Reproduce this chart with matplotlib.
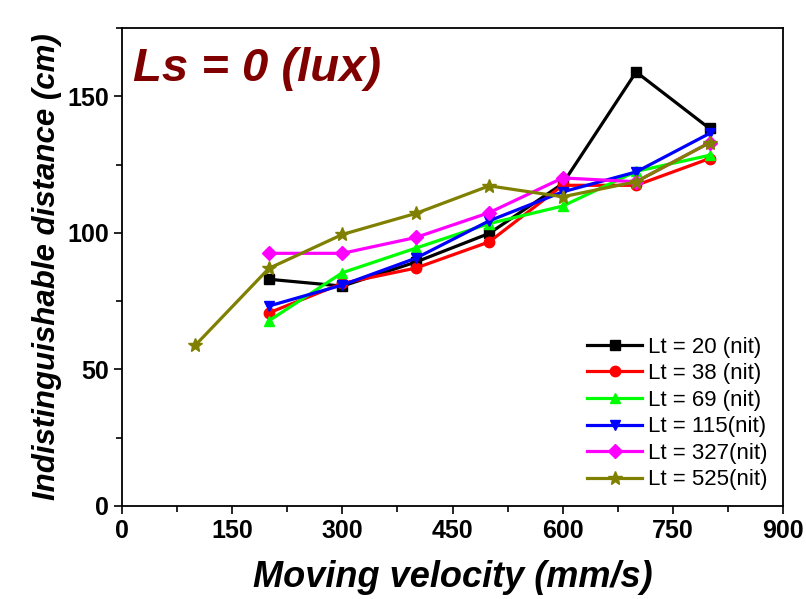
import matplotlib
matplotlib.use("Agg")
import matplotlib.pyplot as plt
from matplotlib.ticker import MultipleLocator

plt.rcParams['font.family'] = ['Liberation Sans', 'DejaVu Sans']

# data
velocity = [200, 300, 400, 500, 600, 700, 800]
velocity_525 = [100, 200, 300, 400, 500, 600, 700, 800]

lt20 = [83.0, 80.5, 89.3, 99.8, 118.0, 158.9, 138.2]
lt38 = [70.7, 81.5, 87.1, 96.7, 117.4, 117.4, 127.2]
lt69 = [67.8, 85.4, 94.4, 103.4, 109.8, 122.5, 128.4]
lt115 = [73.2, 80.9, 90.7, 104.4, 115.0, 122.3, 136.4]
lt327 = [92.5, 92.5, 98.3, 107.4, 120.1, 118.7, 133.0]
lt525 = [58.9, 87.0, 99.4, 107.1, 117.2, 113.2, 118.7, 133.0]

series = [
    (velocity, lt20, 'Lt = 20 (nit)', 'black', 's'),
    (velocity, lt38, 'Lt = 38 (nit)', '#ff0000', 'o'),
    (velocity, lt69, 'Lt = 69 (nit)', '#00ff00', '^'),
    (velocity, lt115, 'Lt = 115(nit)', '#0000ff', 'v'),
    (velocity, lt327, 'Lt = 327(nit)', '#ff00ff', 'D'),
    (velocity_525, lt525, 'Lt = 525(nit)', '#808000', '*'),
]

fig = plt.figure(figsize=(8.06, 5.99), dpi=100)
ax = fig.add_axes([0.1514, 0.1553, 0.8201, 0.798])

for x, y, label, color, marker in series:
    ms = 10 if marker == '*' else 7.5
    if marker == 'D':
        ms = 7
    ax.plot(x, y, color=color, marker=marker, markersize=ms, linewidth=2.3,
            label=label)

ax.set_xlim(0, 900)
ax.set_ylim(0, 175)
ax.xaxis.set_major_locator(MultipleLocator(150))
ax.xaxis.set_minor_locator(MultipleLocator(75))
ax.yaxis.set_major_locator(MultipleLocator(50))
ax.yaxis.set_minor_locator(MultipleLocator(25))
ax.tick_params(which='both', direction='out', top=False, right=False, width=1.2)
ax.tick_params(which='major', length=6, labelsize=18)
ax.tick_params(which='minor', length=4)
for lab in ax.get_xticklabels() + ax.get_yticklabels():
    lab.set_fontweight('bold')
for sp in ax.spines.values():
    sp.set_linewidth(1.3)

ax.set_xlabel('Moving velocity (mm/s)', fontsize=26, fontweight='bold',
              fontstyle='italic', labelpad=12)
ax.set_ylabel('Indistinguishable distance (cm)', fontsize=22.5, fontweight='bold',
              fontstyle='italic', labelpad=4)

ax.text(0.016, 0.96, 'Ls = 0 (lux)', transform=ax.transAxes, fontsize=34,
        fontweight='bold', fontstyle='italic', color='#800000', va='top')

ax.legend(loc='lower right', frameon=False, fontsize=16, handlelength=2.5,
          handletextpad=0.25, labelspacing=0.25, borderaxespad=0.3)

fig.savefig('out.png', dpi=100)
